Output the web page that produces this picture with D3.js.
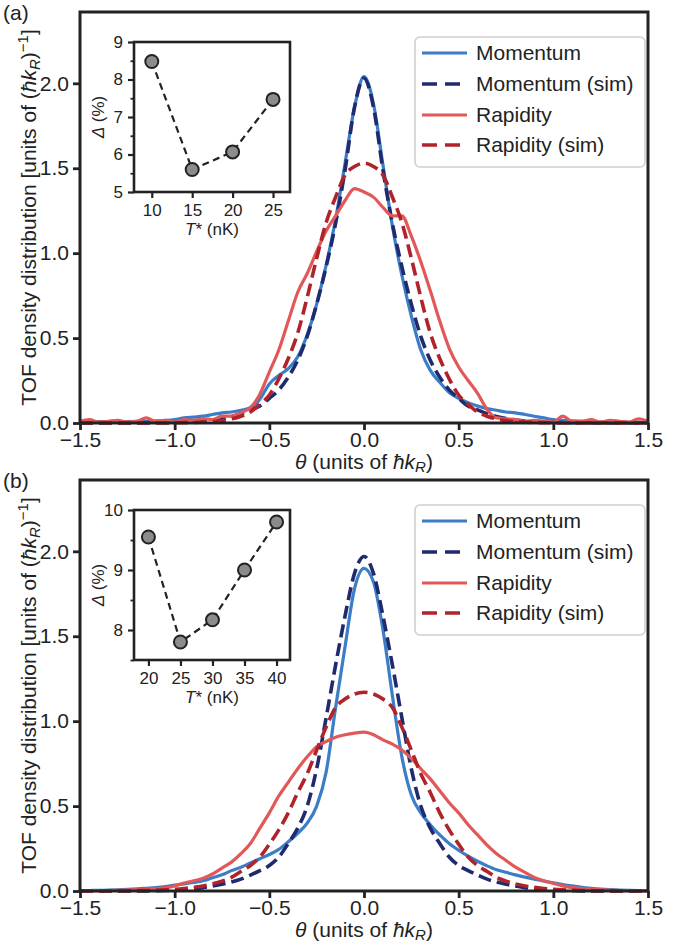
<!DOCTYPE html>
<html>
<head>
<meta charset="utf-8">
<script src="https://cdn.jsdelivr.net/npm/d3@7"></script>
<style>
  body { margin: 0; background: #fff; }
  svg { display: block; }
</style>
</head>
<body>
<div id="wrapper"></div>
<script>
// theta grid (units of hbar k_R)
const theta = [-1.5,-1.45,-1.4,-1.35,-1.3,-1.25,-1.2,-1.15,-1.1,-1.05,-1.0,-0.95,-0.9,-0.85,-0.8,-0.75,-0.7,-0.65,-0.6,-0.55,-0.5,-0.45,-0.4,-0.35,-0.3,-0.25,-0.2,-0.15,-0.1,-0.05,0,
  0.05,0.1,0.15,0.2,0.25,0.3,0.35,0.4,0.45,0.5,0.55,0.6,0.65,0.7,0.75,0.8,0.85,0.9,0.95,1.0,1.05,1.1,1.15,1.2,1.25,1.3,1.35,1.4,1.45,1.5];

// panel (a)
const momA = [0.005,0.005,0.008,0.005,0.006,0.008,0.01,0.008,0.012,0.015,0.02,0.03,0.035,0.04,0.05,0.06,0.065,0.075,0.09,0.14,0.23,0.28,0.32,0.39,0.52,0.70,0.93,1.20,1.53,1.86,2.04,
  1.88,1.52,1.16,0.87,0.63,0.43,0.31,0.24,0.18,0.145,0.12,0.10,0.085,0.075,0.065,0.06,0.05,0.04,0.03,0.02,0.015,0.012,0.01,0.008,0.006,0.008,0.005,0.004,0.005,0.004];
const momSimA = [0,0,0,0,0.001,0.001,0.001,0.002,0.002,0.003,0.004,0.006,0.008,0.012,0.018,0.026,0.038,0.055,0.077,0.10,0.145,0.195,0.27,0.37,0.51,0.70,0.92,1.175,1.49,1.86,2.03,
  1.86,1.49,1.175,0.92,0.70,0.51,0.37,0.27,0.195,0.145,0.10,0.077,0.055,0.038,0.026,0.018,0.012,0.008,0.006,0.004,0.003,0.002,0.002,0.001,0.001,0.001,0,0,0,0];
const rapA = [0.01,0.02,0.005,0.01,0.015,0.005,0.01,0.03,0.01,0.015,0.005,0.02,0.015,0.025,0.02,0.04,0.04,0.06,0.09,0.17,0.30,0.43,0.60,0.77,0.88,1.01,1.13,1.22,1.31,1.38,1.36,
  1.33,1.27,1.22,1.22,1.10,0.95,0.78,0.60,0.44,0.33,0.25,0.175,0.08,0.03,0.025,0.02,0.01,0.015,0.01,0.005,0.04,0.01,0.01,0.02,0.005,0.015,0.01,0.005,0.025,0.01];
const rapSimA = [0,0,0,0,0,0,0,0,0,0,0.001,0.002,0.003,0.005,0.008,0.014,0.024,0.04,0.065,0.11,0.165,0.26,0.38,0.53,0.74,0.97,1.18,1.33,1.46,1.51,1.53,
  1.51,1.46,1.33,1.18,0.97,0.74,0.53,0.38,0.26,0.165,0.11,0.065,0.04,0.024,0.014,0.008,0.005,0.003,0.002,0.001,0,0,0,0,0,0,0,0,0,0];

// panel (b)
const momB = [0.002,0.003,0.004,0.005,0.007,0.009,0.012,0.016,0.02,0.026,0.035,0.042,0.05,0.06,0.078,0.095,0.12,0.14,0.165,0.19,0.215,0.245,0.29,0.34,0.40,0.50,0.70,1.08,1.44,1.78,1.90,
  1.82,1.54,1.15,0.79,0.565,0.46,0.39,0.33,0.28,0.24,0.205,0.175,0.148,0.125,0.11,0.095,0.082,0.07,0.058,0.048,0.038,0.03,0.022,0.016,0.011,0.008,0.006,0.004,0.003,0.002];
const momSimB = [0,0,0,0,0,0,0.001,0.001,0.002,0.003,0.005,0.008,0.013,0.02,0.03,0.04,0.053,0.07,0.094,0.12,0.15,0.20,0.28,0.37,0.50,0.72,1.02,1.33,1.62,1.87,1.97,
  1.87,1.62,1.33,1.02,0.72,0.50,0.37,0.28,0.20,0.15,0.12,0.094,0.07,0.053,0.04,0.03,0.02,0.013,0.008,0.005,0.003,0.002,0.001,0.001,0,0,0,0,0,0];
const rapB = [0,0.001,0.002,0.003,0.004,0.006,0.008,0.01,0.013,0.018,0.03,0.047,0.06,0.075,0.10,0.135,0.17,0.22,0.28,0.37,0.46,0.56,0.64,0.72,0.79,0.85,0.88,0.905,0.92,0.93,0.935,
  0.92,0.89,0.865,0.83,0.78,0.72,0.66,0.59,0.52,0.46,0.39,0.33,0.27,0.22,0.18,0.14,0.11,0.08,0.06,0.045,0.03,0.02,0.014,0.01,0.007,0.005,0.003,0.002,0.001,0];
const rapSimB = [0,0,0,0,0.001,0.001,0.002,0.003,0.005,0.007,0.01,0.015,0.022,0.03,0.042,0.058,0.08,0.115,0.15,0.20,0.275,0.36,0.46,0.58,0.69,0.83,0.965,1.08,1.13,1.16,1.17,
  1.16,1.13,1.08,0.965,0.83,0.69,0.58,0.46,0.36,0.275,0.20,0.15,0.115,0.08,0.058,0.042,0.03,0.022,0.015,0.01,0.007,0.005,0.003,0.002,0.001,0.001,0,0,0,0];

// insets: Delta (%) vs T* (nK)
const tA = [10, 15, 20, 25];
const deltaA = [8.48, 5.6, 6.07, 7.47];
const tB = [20, 25, 30, 35, 40];
const deltaB = [9.55, 7.8, 8.17, 9.0, 9.8];

const legendNames = ["Momentum", "Momentum (sim)", "Rapidity", "Rapidity (sim)"];
const styles = [
  {color: "#3b7dc6", dash: null, width: 3.2},
  {color: "#1f2b6e", dash: "13,6", width: 3.6},
  {color: "#e25858", dash: null, width: 3.2},
  {color: "#b1232a", dash: "13,6", width: 3.6}
];

const W = 685, H = 947;
const font = "'Liberation Sans', Arial, Helvetica, sans-serif";
const ink = "#222";
const fs = 21;   // main text size

const svg = d3.select("#wrapper").append("svg")
  .attr("width", W).attr("height", H)
  .style("font-family", font);

function styleAxis(g, size, sw) {
  g.select(".domain").remove();
  g.selectAll(".tick line").attr("stroke", ink).attr("stroke-width", sw);
  g.selectAll(".tick text").attr("fill", ink).style("font-size", size + "px");
}

function drawPanel(off, tag, data, inset) {
  const x = d3.scaleLinear().domain([-1.5, 1.5]).range([80, 648]);
  const y = d3.scaleLinear().domain([0, 2.42]).range([423 + off, 12 + off]);
  const g = svg.append("g");

  // curves
  const line = d3.line()
    .x((d, i) => x(theta[i]))
    .y(d => y(d))
    .curve(d3.curveMonotoneX);
  data.forEach((vals, k) => {
    g.append("path")
      .attr("d", line(vals))
      .attr("fill", "none")
      .attr("stroke", styles[k].color)
      .attr("stroke-width", styles[k].width)
      .attr("stroke-dasharray", styles[k].dash)
      .attr("stroke-linejoin", "round");
  });

  // axes
  const xa = g.append("g").attr("transform", `translate(0,${y(0)})`)
    .call(d3.axisBottom(x).tickValues([-1.5, -1, -0.5, 0, 0.5, 1, 1.5])
      .tickFormat(d3.format(".1f")).tickSize(7).tickPadding(2));
  styleAxis(xa, fs, 2.8);
  const ya = g.append("g").attr("transform", "translate(80,0)")
    .call(d3.axisLeft(y).tickValues([0, 0.5, 1, 1.5, 2])
      .tickFormat(d3.format(".1f")).tickSize(7).tickPadding(4));
  styleAxis(ya, fs, 2.8);

  g.append("rect")
    .attr("x", 80).attr("y", 12 + off).attr("width", 568).attr("height", 411)
    .attr("fill", "none").attr("stroke", ink).attr("stroke-width", 3);

  // x label
  const xl = g.append("text").attr("x", 364).attr("y", 469 + off)
    .attr("text-anchor", "middle").attr("fill", ink).style("font-size", fs + "px");
  xl.append("tspan").attr("font-style", "italic").text("θ");
  xl.append("tspan").text(" (units of ");
  xl.append("tspan").attr("font-style", "italic").text("ħk");
  xl.append("tspan").attr("font-style", "italic").attr("dy", 3).style("font-size", "15px").text("R");
  xl.append("tspan").attr("dy", -3).text(")");

  // y label
  const yl = g.append("text")
    .attr("transform", `translate(36,${217.5 + off}) rotate(-90)`)
    .attr("text-anchor", "middle").attr("fill", ink).style("font-size", fs + "px");
  yl.append("tspan").text("TOF density distribution [units of (");
  yl.append("tspan").attr("font-style", "italic").text("ħk");
  yl.append("tspan").attr("font-style", "italic").attr("dy", 4).style("font-size", "15px").text("R");
  yl.append("tspan").attr("dy", -4).text(")");
  yl.append("tspan").attr("dy", -8).style("font-size", "15px").text("−1");
  yl.append("tspan").attr("dy", 8).text("]");

  // panel tag
  g.append("text").attr("x", 3).attr("y", 20 + off)
    .attr("fill", ink).style("font-size", fs + "px").text(tag);

  // legend
  const lg = g.append("g");
  lg.append("rect")
    .attr("x", 415).attr("y", 37 + off).attr("width", 230).attr("height", 130)
    .attr("rx", 5).attr("fill", "#fff").attr("fill-opacity", 0.85)
    .attr("stroke", "#d0d0d0").attr("stroke-width", 1.6);
  const rows = [53, 84, 115, 145];
  legendNames.forEach((name, k) => {
    const ry = rows[k] + off;
    lg.append("line").attr("x1", 422).attr("x2", 467).attr("y1", ry).attr("y2", ry)
      .attr("stroke", styles[k].color).attr("stroke-width", styles[k].width)
      .attr("stroke-dasharray", styles[k].dash ? "15,8" : null);
    lg.append("text").attr("x", 476).attr("y", ry).attr("dy", "0.35em")
      .attr("fill", ink).style("font-size", fs + "px").text(name);
  });

  // inset
  const ix = d3.scaleLinear().domain(inset.xDomain).range([134, 290]);
  const iy = d3.scaleLinear().domain(inset.yDomain).range([192 + off, 42 + off]);
  const ig = g.append("g");
  ig.append("rect").attr("x", 134).attr("y", 42 + off).attr("width", 156).attr("height", 150)
    .attr("fill", "#fff");

  const ixa = ig.append("g").attr("transform", `translate(0,${192 + off})`)
    .call(d3.axisBottom(ix).tickValues(inset.xTicks).tickFormat(d3.format("d")).tickSize(6).tickPadding(6));
  styleAxis(ixa, 17, 2.2);
  const iya = ig.append("g").attr("transform", "translate(134,0)")
    .call(d3.axisLeft(iy).tickValues(inset.yTicks).tickFormat(d3.format("d")).tickSize(6).tickPadding(5));
  styleAxis(iya, 17, 2.2);
  const iym = ig.append("g").attr("transform", "translate(134,0)")
    .call(d3.axisLeft(iy).tickValues(inset.yMinor).tickFormat("").tickSize(3.5));
  styleAxis(iym, 17, 1.8);

  ig.append("path")
    .attr("d", d3.line().x((d, i) => ix(inset.t[i])).y(d => iy(d))(inset.d))
    .attr("fill", "none").attr("stroke", ink).attr("stroke-width", 2.2)
    .attr("stroke-dasharray", "7,4.5");
  ig.selectAll("circle").data(inset.d).join("circle")
    .attr("cx", (d, i) => ix(inset.t[i])).attr("cy", d => iy(d)).attr("r", 6.5)
    .attr("fill", "#8c8c8c").attr("stroke", ink).attr("stroke-width", 2);

  ig.append("rect").attr("x", 134).attr("y", 42 + off).attr("width", 156).attr("height", 150)
    .attr("fill", "none").attr("stroke", ink).attr("stroke-width", 2.6);

  const ixl = ig.append("text").attr("x", 212).attr("y", 235 + off)
    .attr("text-anchor", "middle").attr("fill", ink).style("font-size", "17px");
  ixl.append("tspan").attr("font-style", "italic").text("T");
  ixl.append("tspan").text("* (nK)");

  const iyl = ig.append("text")
    .attr("transform", `translate(104,${117 + off}) rotate(-90)`)
    .attr("text-anchor", "middle").attr("fill", ink).style("font-size", "17px");
  iyl.append("tspan").attr("font-style", "italic").text("Δ");
  iyl.append("tspan").text(" (%)");
}

drawPanel(0, "(a)", [momA, momSimA, rapA, rapSimA], {
  t: tA, d: deltaA, xDomain: [7.8, 27.1], yDomain: [5, 9],
  xTicks: [10, 15, 20, 25], yTicks: [5, 6, 7, 8, 9], yMinor: [5.5, 6.5, 7.5, 8.5]
});
drawPanel(468, "(b)", [momB, momSimB, rapB, rapSimB], {
  t: tB, d: deltaB, xDomain: [17.75, 42.1], yDomain: [7.5, 10],
  xTicks: [20, 25, 30, 35, 40], yTicks: [8, 9, 10], yMinor: [7.5, 8.5, 9.5]
});
</script>
</body>
</html>
